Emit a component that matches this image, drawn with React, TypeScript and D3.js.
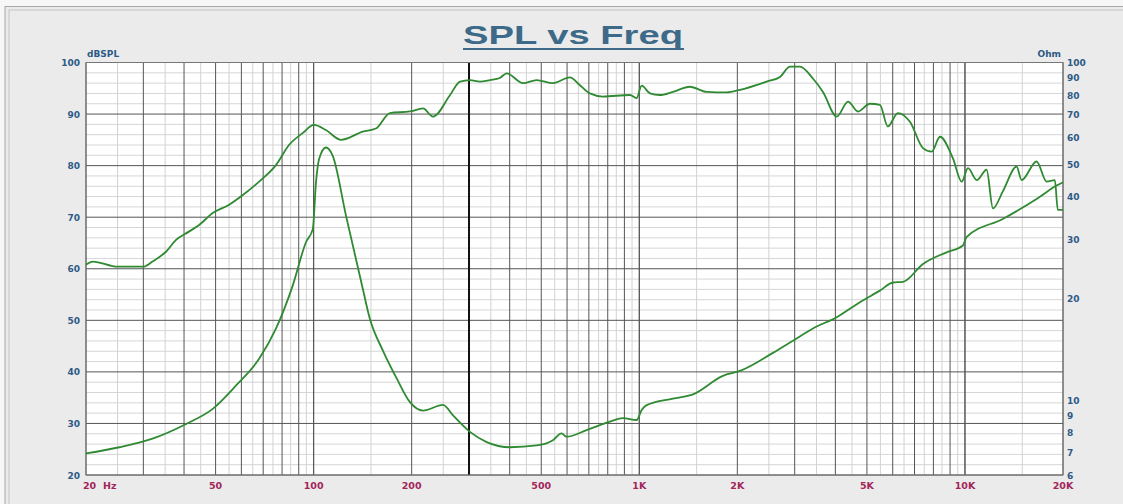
import * as d3 from "d3";

// SPL response (dB SPL, left axis)
const splFreq = [20, 21, 25, 30, 32, 35.2, 37.8, 41.4, 44.5, 49, 55, 60.6, 68, 76.6, 84, 92.5, 100.2, 109.1, 121.4, 141.5, 155.3, 171.5, 197.6, 216.7, 232.5, 262.4, 281.4, 302, 324, 348, 373, 391.5, 439.6, 484, 543, 612, 657, 705, 773, 936, 981, 1017, 1079, 1157, 1268, 1430, 1611, 1855, 2037, 2462, 2704, 2903, 3113, 3413, 3665, 4039, 4375, 4692, 5106, 5480, 5796, 6222, 6777, 7430, 7903, 8380, 9185, 9770, 10216, 10865, 11651, 12190, 13070, 14410, 14925, 16590, 17810, 18880, 19280, 20000];
const splDb = [60.8, 61.4, 60.4, 60.4, 61.4, 63.3, 65.6, 67.2, 68.5, 70.8, 72.4, 74.3, 76.9, 80.1, 84.0, 86.3, 87.9, 86.9, 85.0, 86.6, 87.2, 90.2, 90.5, 91.1, 89.5, 93.7, 96.3, 96.6, 96.3, 96.6, 97.0, 97.9, 96.0, 96.6, 96.0, 97.1, 95.6, 94.0, 93.4, 93.7, 93.1, 95.5, 94.0, 93.7, 94.3, 95.3, 94.3, 94.2, 94.7, 96.3, 97.2, 99.2, 99.2, 96.9, 94.3, 89.5, 92.4, 90.5, 92.0, 91.8, 87.6, 90.2, 88.5, 83.4, 82.7, 85.6, 81.4, 76.9, 79.5, 77.2, 79.2, 71.7, 75.0, 79.8, 77.2, 80.8, 76.9, 77.2, 71.4, 71.4];

// impedance (Ohm, right axis)
const zFreq = [20, 25.3, 32, 40.6, 49, 57.8, 68, 76.6, 86.2, 94.8, 99.4, 101.7, 103.9, 109.1, 114.4, 125.7, 141.5, 148.6, 163.3, 179.9, 197.6, 216.7, 249.6, 267.9, 302, 340, 400.6, 484, 543, 577, 598, 689, 812, 891, 981, 1017, 1053, 1268, 1462, 1806, 2037, 2571, 2964, 3413, 4039, 4757, 5480, 6010, 6451, 7430, 8783, 9855, 10111, 13070, 16590, 19110, 20000];
const zOhm = [6.95, 7.25, 7.69, 8.5, 9.42, 11.05, 13.25, 16.27, 21.8, 29.4, 32.1, 44.2, 51.7, 56.0, 53.0, 35.2, 21.4, 17.5, 14.0, 11.6, 9.86, 9.31, 9.68, 9.01, 8.05, 7.51, 7.25, 7.34, 7.61, 7.97, 7.79, 8.15, 8.63, 8.84, 8.73, 9.35, 9.66, 10.1, 10.4, 11.8, 12.2, 13.8, 15.0, 16.3, 17.6, 19.5, 21.1, 22.3, 22.4, 25.3, 27.4, 28.7, 30.4, 34.4, 39.4, 43.2, 44.2];

const dbTicks = [20, 30, 40, 50, 60, 70, 80, 90, 100];
const ohmTicks = [6, 7, 8, 9, 10, 20, 30, 40, 50, 60, 70, 80, 90, 100];
const freqTicks = [50, 100, 200, 500, 1000, 2000, 5000, 10000, 20000];
const freqLabels = ["50", "100", "200", "500", "1K", "2K", "5K", "10K", "20K"];

const W = 1123;
const H = 504;
const left = 86;
const right = 1063;
const top = 62.5;
const bottom = 475;

const lineColor = "#2f8a32";
const tickFont = "'DejaVu Sans', Verdana, sans-serif";

export default function App() {
  const x = d3.scaleLog().domain([20, 20000]).range([left, right]);
  const yDb = d3.scaleLinear().domain([20, 100]).range([bottom, top]);
  const yOhm = d3.scaleLog().domain([6, 100]).range([bottom, top]);

  const majorF: number[] = [];
  const minorF: number[] = [];
  [10, 100, 1000, 10000].forEach((dec) => {
    for (let k = 1; k <= 10; k++) {
      const f = k * dec;
      if (f >= 20 && f <= 20000) majorF.push(f);
      const m = (k + 0.5) * dec;
      if (k < 10 && m > 20 && m < 20000) minorF.push(m);
    }
  });
  const minorDb = d3.range(22, 100, 2).filter((v) => v % 10 !== 0);

  const splLine = d3
    .line<number>()
    .x((_, i) => x(splFreq[i]))
    .y((d) => yDb(d))
    .curve(d3.curveMonotoneX);
  const zLine = d3
    .line<number>()
    .x((_, i) => x(zFreq[i]))
    .y((d) => yOhm(d))
    .curve(d3.curveMonotoneX);

  return (
    <svg
      width={W}
      height={H}
      style={{ position: "absolute", left: 0, top: 0, display: "block" }}
    >
      <rect x={0} y={0} width={W} height={H} fill="#f7f7f7" />
      <rect x={5} y={6.5} width={W + 10} height={H} fill="#ebebeb" stroke="#a8a8a8" strokeWidth={1} />
      <rect x={9} y={10} width={W + 10} height={H} fill="none" stroke="#c4c4c4" strokeWidth={1} />

      <text
        x={573}
        y={44}
        textAnchor="middle"
        fontFamily="'Liberation Sans', Arial, sans-serif"
        fontWeight="bold"
        fontSize={25}
        fill="#3d6a88"
        textLength={220}
        lengthAdjust="spacingAndGlyphs"
      >
        SPL vs Freq
      </text>
      <rect x={463} y={48} width={221} height={2} fill="#3d6a88" />

      <rect x={left} y={top} width={right - left} height={bottom - top} fill="#ffffff" />

      {minorDb.map((v) => (
        <line key={"hd" + v} x1={left} x2={right} y1={yDb(v)} y2={yDb(v)} stroke="#d6d6d6" strokeWidth={1} />
      ))}
      {minorF.map((f) => (
        <line key={"vm" + f} x1={x(f)} x2={x(f)} y1={top} y2={bottom} stroke="#d2d2d2" strokeWidth={1} />
      ))}
      {dbTicks.map((v) => (
        <line key={"hD" + v} x1={left} x2={right} y1={yDb(v)} y2={yDb(v)} stroke="#555" strokeWidth={1} />
      ))}
      {majorF.map((f) => (
        <line
          key={"vM" + f}
          x1={x(f)}
          x2={x(f)}
          y1={top}
          y2={bottom}
          stroke={f === 300 ? "#111" : "#555"}
          strokeWidth={f === 300 ? 2 : 1}
        />
      ))}
      <rect x={left} y={top} width={right - left} height={bottom - top} fill="none" stroke="#777" strokeWidth={1} />

      <path d={splLine(splDb) ?? ""} fill="none" stroke={lineColor} strokeWidth={1.8} />
      <path d={zLine(zOhm) ?? ""} fill="none" stroke={lineColor} strokeWidth={1.8} />

      <g fontFamily={tickFont} fontWeight="bold" fontSize={9} fill="#2d5a86">
        {dbTicks.map((v) => (
          <text key={"ld" + v} x={80} y={yDb(v) + 3.5} textAnchor="end">
            {v}
          </text>
        ))}
        {ohmTicks.map((v) => (
          <text key={"ro" + v} x={1067} y={yOhm(v) + 3.5} textAnchor="start">
            {v}
          </text>
        ))}
        <text x={87} y={57}>dBSPL</text>
        <text x={1061} y={57} textAnchor="end">Ohm</text>
      </g>

      <g fontFamily={tickFont} fontWeight="bold" fontSize={9.5} fill="#a3265a">
        <text x={83} y={489}>20</text>
        <text x={103} y={489}>Hz</text>
        {freqTicks.map((f, i) => (
          <text key={"bf" + f} x={x(f)} y={489} textAnchor="middle">
            {freqLabels[i]}
          </text>
        ))}
      </g>
    </svg>
  );
}
